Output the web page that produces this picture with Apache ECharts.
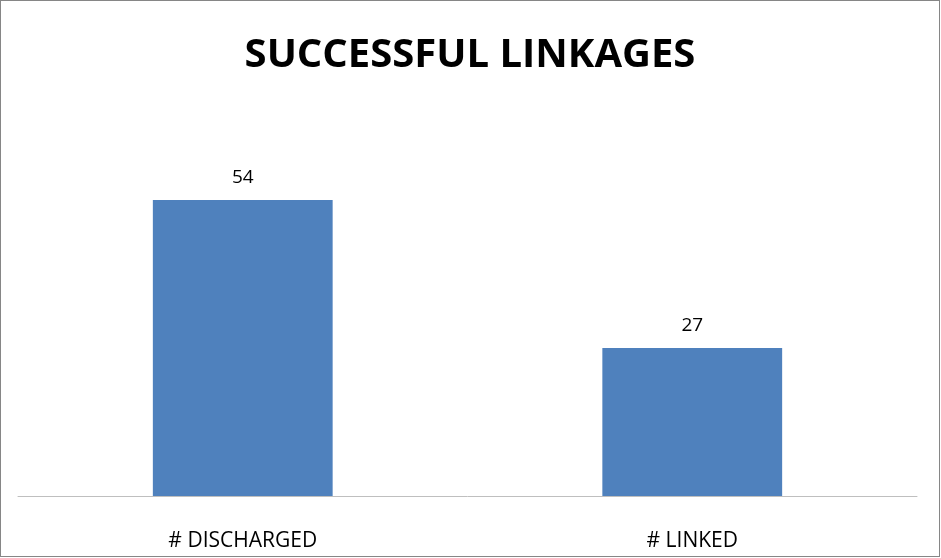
<!DOCTYPE html>
<html>
<head>
<meta charset="utf-8">
<script src="https://cdn.jsdelivr.net/npm/echarts@6/dist/echarts.min.js"></script>
<style>
html,body{margin:0;padding:0;background:#fff;}
#c{position:absolute;left:0;top:0;width:940px;height:557px;box-sizing:border-box;border:1px solid #868686;}
</style>
</head>
<body>
<div id="c"></div>
<script>
const titleText = 'SUCCESSFUL LINKAGES';
const categories = ['# DISCHARGED', '# LINKED'];
const values = [54, 27];

const chart = echarts.init(document.getElementById('c'));
chart.setOption({
  animation: false,
  title: {
    text: titleText,
    left: 'center',
    top: 30,
    textStyle: {fontFamily: 'Open Sans', fontWeight: 'bold', fontSize: 40, color: '#000'}
  },
  grid: {left: 17, right: 22, top: 166, bottom: 60},
  xAxis: {
    type: 'category',
    data: categories,
    axisLine: {lineStyle: {color: '#bfbfbf', width: 1}},
    axisTick: {show: false},
    axisLabel: {fontFamily: 'Open Sans', fontSize: 21, color: '#000', margin: 35}
  },
  yAxis: {
    type: 'value',
    min: 0, max: 60,
    show: false,
    splitLine: {show: false}
  },
  series: [{
    type: 'bar',
    data: values,
    barWidth: '40%',
    itemStyle: {color: '#4f81bd'},
    label: {show: true, position: 'top', distance: 13, fontFamily: 'Open Sans', fontSize: 19, color: '#000'}
  }]
});
</script>
</body>
</html>
